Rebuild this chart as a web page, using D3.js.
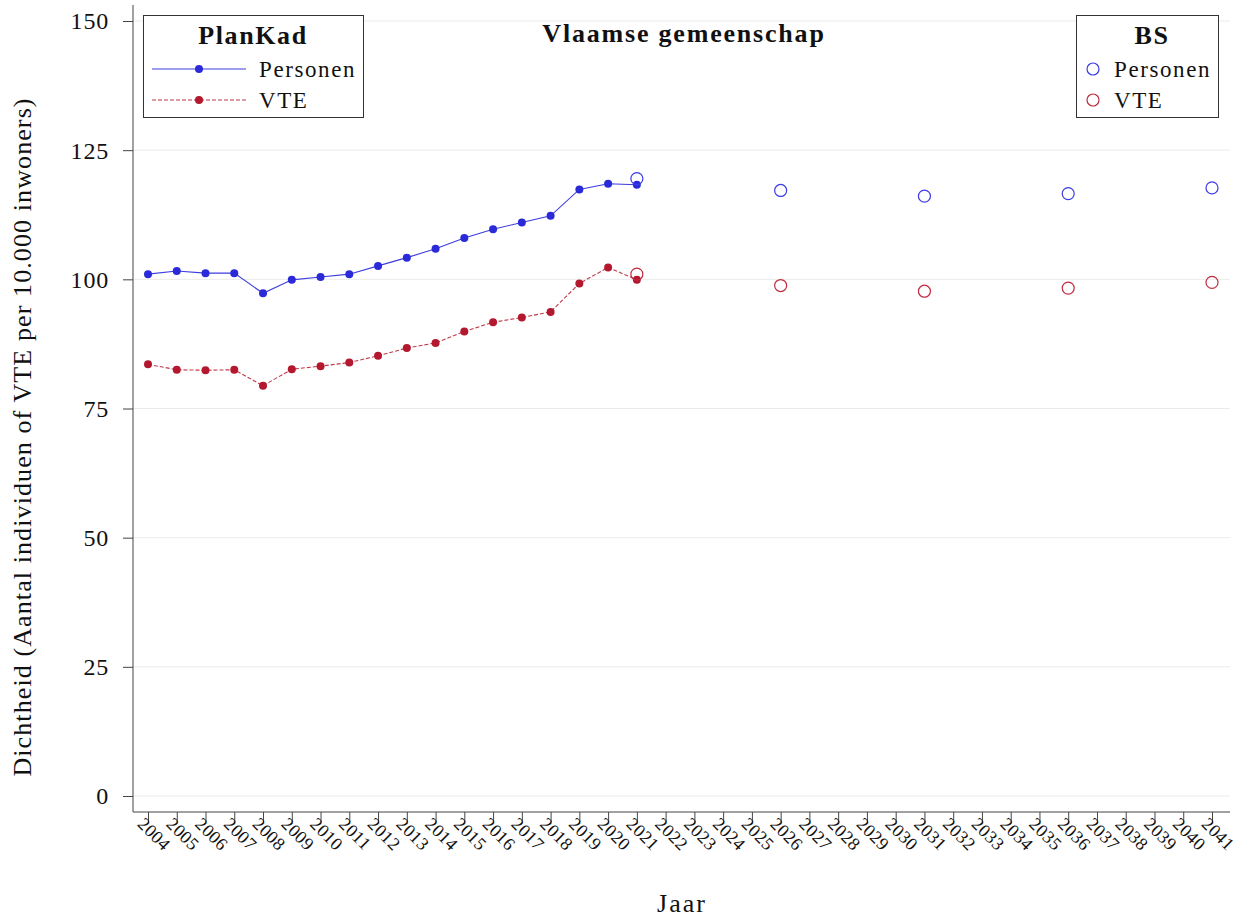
<!DOCTYPE html>
<html><head><meta charset="utf-8">
<script src="https://cdn.jsdelivr.net/npm/d3@7"></script>
<style>body{margin:0;background:#fff}svg{display:block;font-family:"Liberation Serif","Times New Roman",serif}</style>
</head><body>
<svg id="c" width="1242" height="921"></svg>
<script>
const years = d3.range(2004, 2042);
const planYears = [2004,2005,2006,2007,2008,2009,2010,2011,2012,2013,2014,2015,2016,2017,2018,2019,2020,2021];
const planPersonen = [101.0,101.6,101.2,101.2,97.3,99.9,100.45,101.0,102.6,104.2,105.9,108.0,109.7,111.0,112.3,117.4,118.5,118.3];
const planVTE = [83.55,82.5,82.4,82.5,79.4,82.6,83.2,83.9,85.2,86.7,87.7,89.9,91.7,92.6,93.7,99.2,102.3,99.9];
const bsYears = [2021,2026,2031,2036,2041];
const bsPersonen = [119.5,117.2,116.1,116.6,117.7];
const bsVTE = [101.0,98.8,97.7,98.3,99.4];
const yTicks = [0,25,50,75,100,125,150];

const blue = "#2a2ad8", red = "#b3182e";
const svg = d3.select("#c");
const L = 133, R = 1230, T = 21, B = 796, axisY = 812;
const x = d3.scaleLinear().domain([2004, 2041]).range([148, 1212]);
const y = d3.scaleLinear().domain([0, 150]).range([B, T]);

// gridlines
svg.append("g").selectAll("line").data(yTicks).join("line")
  .attr("x1", L).attr("x2", R).attr("y1", d => y(d)).attr("y2", d => y(d))
  .attr("stroke", "#ebebeb").attr("stroke-width", 1);

// y axis
const ya = svg.append("g").attr("transform", `translate(${L},0)`)
  .call(d3.axisLeft(y).tickValues(yTicks).tickSize(10).tickPadding(14).tickFormat(d3.format("d")));
ya.select(".domain").remove();
ya.append("line").attr("x1",0).attr("x2",0).attr("y1",5).attr("y2",axisY).attr("stroke","#444");
ya.selectAll(".tick line").attr("stroke","#444");
ya.selectAll(".tick text").attr("font-family","Liberation Serif").attr("font-size",24).attr("letter-spacing","0.8px").attr("fill","#111").attr("dy","0.33em");

// x axis
const xa = svg.append("g").attr("transform", `translate(0,${axisY})`)
  .call(d3.axisBottom(x).tickValues(years).tickSize(10).tickFormat(d3.format("d")));
xa.select(".domain").remove();
xa.append("line").attr("x1",L).attr("x2",R).attr("y1",0).attr("y2",0).attr("stroke","#444");
xa.selectAll(".tick line").attr("stroke","#444");
xa.selectAll(".tick text").attr("font-family","Liberation Serif").attr("font-size",18).attr("letter-spacing","0.4px").attr("fill","#111")
  .attr("text-anchor","start").attr("y",0).attr("dy",0)
  .attr("transform","translate(-12,13) rotate(45)");

// axis titles
svg.append("text").attr("x", 682).attr("y", 912).attr("text-anchor","middle")
  .attr("font-size",26).attr("letter-spacing","2px").attr("fill","#111").text("Jaar");
svg.append("text").attr("transform","translate(31,437) rotate(-90)").attr("text-anchor","middle")
  .attr("font-size",26).attr("letter-spacing","1.1px").attr("fill","#111").text("Dichtheid (Aantal individuen of VTE per 10.000 inwoners)");

// title
svg.append("text").attr("x", 684).attr("y", 42).attr("text-anchor","middle")
  .attr("font-size",26).attr("font-weight","bold").attr("letter-spacing","1.8px").attr("fill","#111").text("Vlaamse gemeenschap");

// lines
const line = d3.line().x(d => x(d[0])).y(d => y(d[1]));
const pp = planYears.map((yr,i) => [yr, planPersonen[i]]);
const pv = planYears.map((yr,i) => [yr, planVTE[i]]);
svg.append("path").datum(pp).attr("d", line).attr("fill","none").attr("stroke","#3d3de0").attr("stroke-width",1.1);
svg.append("path").datum(pv).attr("d", line).attr("fill","none").attr("stroke","#c0394b").attr("stroke-width",1.1).attr("stroke-dasharray","4,2");
svg.append("g").selectAll("circle").data(pp).join("circle")
  .attr("cx", d => x(d[0])).attr("cy", d => y(d[1])).attr("r",4).attr("fill",blue);
svg.append("g").selectAll("circle").data(pv).join("circle")
  .attr("cx", d => x(d[0])).attr("cy", d => y(d[1])).attr("r",4).attr("fill",red);

// BS points
const bp = bsYears.map((yr,i) => [yr, bsPersonen[i]]);
const bv = bsYears.map((yr,i) => [yr, bsVTE[i]]);
svg.append("g").selectAll("circle").data(bp).join("circle")
  .attr("cx", d => x(d[0])).attr("cy", d => y(d[1])).attr("r",6).attr("fill","none").attr("stroke","#3a3ae6").attr("stroke-width",1.2);
svg.append("g").selectAll("circle").data(bv).join("circle")
  .attr("cx", d => x(d[0])).attr("cy", d => y(d[1])).attr("r",6).attr("fill","none").attr("stroke","#c02a3e").attr("stroke-width",1.2);

// legend PlanKad
const lg1 = svg.append("g");
lg1.append("rect").attr("x",143.5).attr("y",15.5).attr("width",220).attr("height",102).attr("fill","#fff").attr("stroke","#333");
lg1.append("text").attr("x",253).attr("y",44).attr("text-anchor","middle").attr("font-size",26).attr("font-weight","bold").attr("letter-spacing","1.6px").attr("fill","#111").text("PlanKad");
lg1.append("line").attr("x1",152).attr("x2",246).attr("y1",69).attr("y2",69).attr("stroke","#3d3de0").attr("stroke-width",1.1);
lg1.append("circle").attr("cx",199).attr("cy",69).attr("r",4).attr("fill",blue);
lg1.append("text").attr("x",259).attr("y",77).attr("font-size",23).attr("letter-spacing","1.6px").attr("fill","#111").text("Personen");
lg1.append("line").attr("x1",152).attr("x2",246).attr("y1",100).attr("y2",100).attr("stroke","#c0394b").attr("stroke-width",1.1).attr("stroke-dasharray","4,2");
lg1.append("circle").attr("cx",199).attr("cy",100).attr("r",4).attr("fill",red);
lg1.append("text").attr("x",259).attr("y",108).attr("font-size",23).attr("letter-spacing","1.6px").attr("fill","#111").text("VTE");

// legend BS
const lg2 = svg.append("g");
lg2.append("rect").attr("x",1076.5).attr("y",15.5).attr("width",142).attr("height",102).attr("fill","#fff").attr("stroke","#333");
lg2.append("text").attr("x",1152).attr("y",44).attr("text-anchor","middle").attr("font-size",26).attr("font-weight","bold").attr("letter-spacing","1.6px").attr("fill","#111").text("BS");
lg2.append("circle").attr("cx",1093).attr("cy",69).attr("r",6).attr("fill","none").attr("stroke","#3a3ae6").attr("stroke-width",1.2);
lg2.append("text").attr("x",1114).attr("y",77).attr("font-size",23).attr("letter-spacing","1.6px").attr("fill","#111").text("Personen");
lg2.append("circle").attr("cx",1093).attr("cy",100).attr("r",6).attr("fill","none").attr("stroke","#c02a3e").attr("stroke-width",1.2);
lg2.append("text").attr("x",1114).attr("y",108).attr("font-size",23).attr("letter-spacing","1.6px").attr("fill","#111").text("VTE");
</script>
</body></html>
